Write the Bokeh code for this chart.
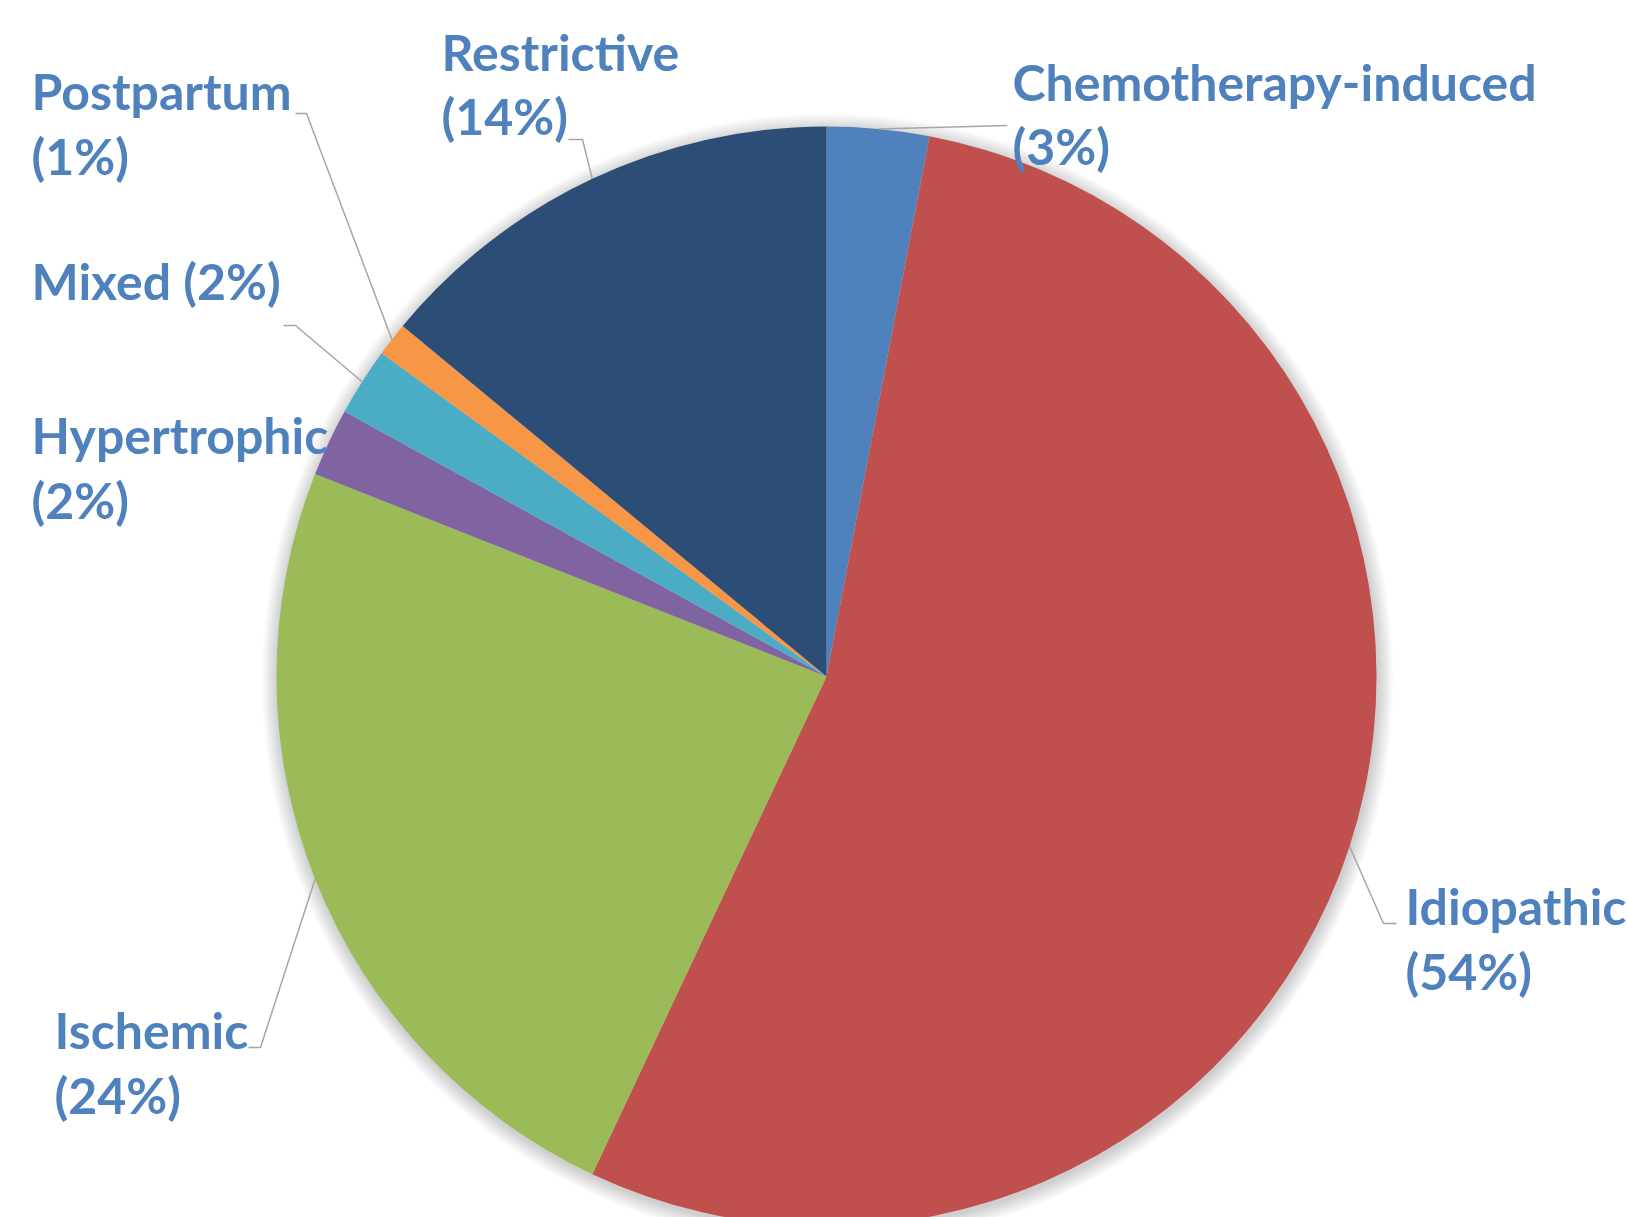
import math
from bokeh.plotting import figure
from bokeh.models import Range1d, ColumnDataSource
from bokeh.embed import file_html
from bokeh.resources import INLINE
from bokeh.core.properties import value

# ---- data ----
categories = ["Chemotherapy-induced", "Idiopathic", "Ischemic", "Hypertrophic",
              "Mixed", "Postpartum", "Restrictive"]
percent = [3, 54, 24, 2, 2, 1, 14]
colors = ["#4F81BD", "#C0504D", "#9BBB59", "#8064A2", "#4BACC6", "#F79646", "#2C4D75"]

# ---- layout (page pixel coordinates) ----
W, H = 1627, 1217
OFF = 0


def sx(fx):
    return fx - OFF


def sy(fy):
    return H - (fy - OFF)


CX, CY, R = sx(826), sy(676), 550
LABEL_COLOR = "#4F81BD"
FONT = "Lato"
FONT_SIZE = "50px"
BASELINE_SHIFT = -18

# label anchor (left x, baselines) and whether the label wraps
label_layout = {
    "Chemotherapy-induced": (1012, [99, 163], True),
    "Idiopathic": (1405, [923, 988], True),
    "Ischemic": (54, [1047, 1112], True),
    "Hypertrophic": (31, [452, 517], True),
    "Mixed": (31, [298], False),
    "Postpartum": (31, [108, 173], True),
    "Restrictive": (441, [69, 133], True),
}
# leader line bend / end points
leader_layout = {
    "Chemotherapy-induced": [(1007, 125)],
    "Idiopathic": [(1383, 923), (1396, 923)],
    "Ischemic": [(260, 1047), (248, 1047)],
    "Mixed": [(295, 325), (283, 325)],
    "Postpartum": [(306, 113), (295, 113)],
    "Restrictive": [(582, 139), (568, 139)],
}

total = float(sum(percent))
starts, ends, mids = [], [], []
acc = 0.0
for v in percent:
    a0 = acc / total
    acc += v
    a1 = acc / total
    starts.append(math.pi / 2 - 2 * math.pi * a0)
    ends.append(math.pi / 2 - 2 * math.pi * a1)
    mids.append(math.pi / 2 - 2 * math.pi * (a0 + a1) / 2)

p = figure(width=W, height=H, x_range=Range1d(0, W), y_range=Range1d(0, H),
           output_backend="svg", toolbar_location=None,
           x_axis_location=None, y_axis_location=None, min_border=0,
           outline_line_color=None, background_fill_color="white",
           border_fill_color="white")
p.grid.grid_line_color = None

# soft shadow
for k in range(16, 0, -1):
    p.circle(x=[CX + 1], y=[CY - 3], radius=R + k, fill_color="black",
             fill_alpha=0.011, line_color=None)

src = ColumnDataSource(dict(cat=categories, pct=percent, color=colors,
                            start=starts, end=ends))
p.wedge(x=CX, y=CY, radius=R, start_angle="start", end_angle="end",
        direction="clock", fill_color="color", line_color=None, source=src)

# leader lines
xs, ys = [], []
for i, cat in enumerate(categories):
    if cat not in leader_layout:
        continue
    ex = CX + R * math.cos(mids[i])
    ey = CY + R * math.sin(mids[i])
    lx = [ex] + [sx(a) for a, b in leader_layout[cat]]
    ly = [ey] + [sy(b) for a, b in leader_layout[cat]]
    xs.append(lx)
    ys.append(ly)
p.multi_line(xs=xs, ys=ys, line_color="#A6A6A6", line_width=1.5)

# labels
tx, ty, tt = [], [], []
for cat, v in zip(categories, percent):
    lx0, bases, wrap = label_layout[cat]
    lines = [cat, f"({v}%)"] if wrap else [f"{cat} ({v}%)"]
    for line, b in zip(lines, bases):
        tx.append(sx(lx0))
        ty.append(sy(b + BASELINE_SHIFT))
        tt.append(line)
p.text(x=tx, y=ty, text=tt, text_color=LABEL_COLOR, text_font=value(FONT),
       text_font_style="bold", text_font_size=FONT_SIZE,
       text_align="left", text_baseline="alphabetic")

open("out.html", "w").write(file_html(p, INLINE))
